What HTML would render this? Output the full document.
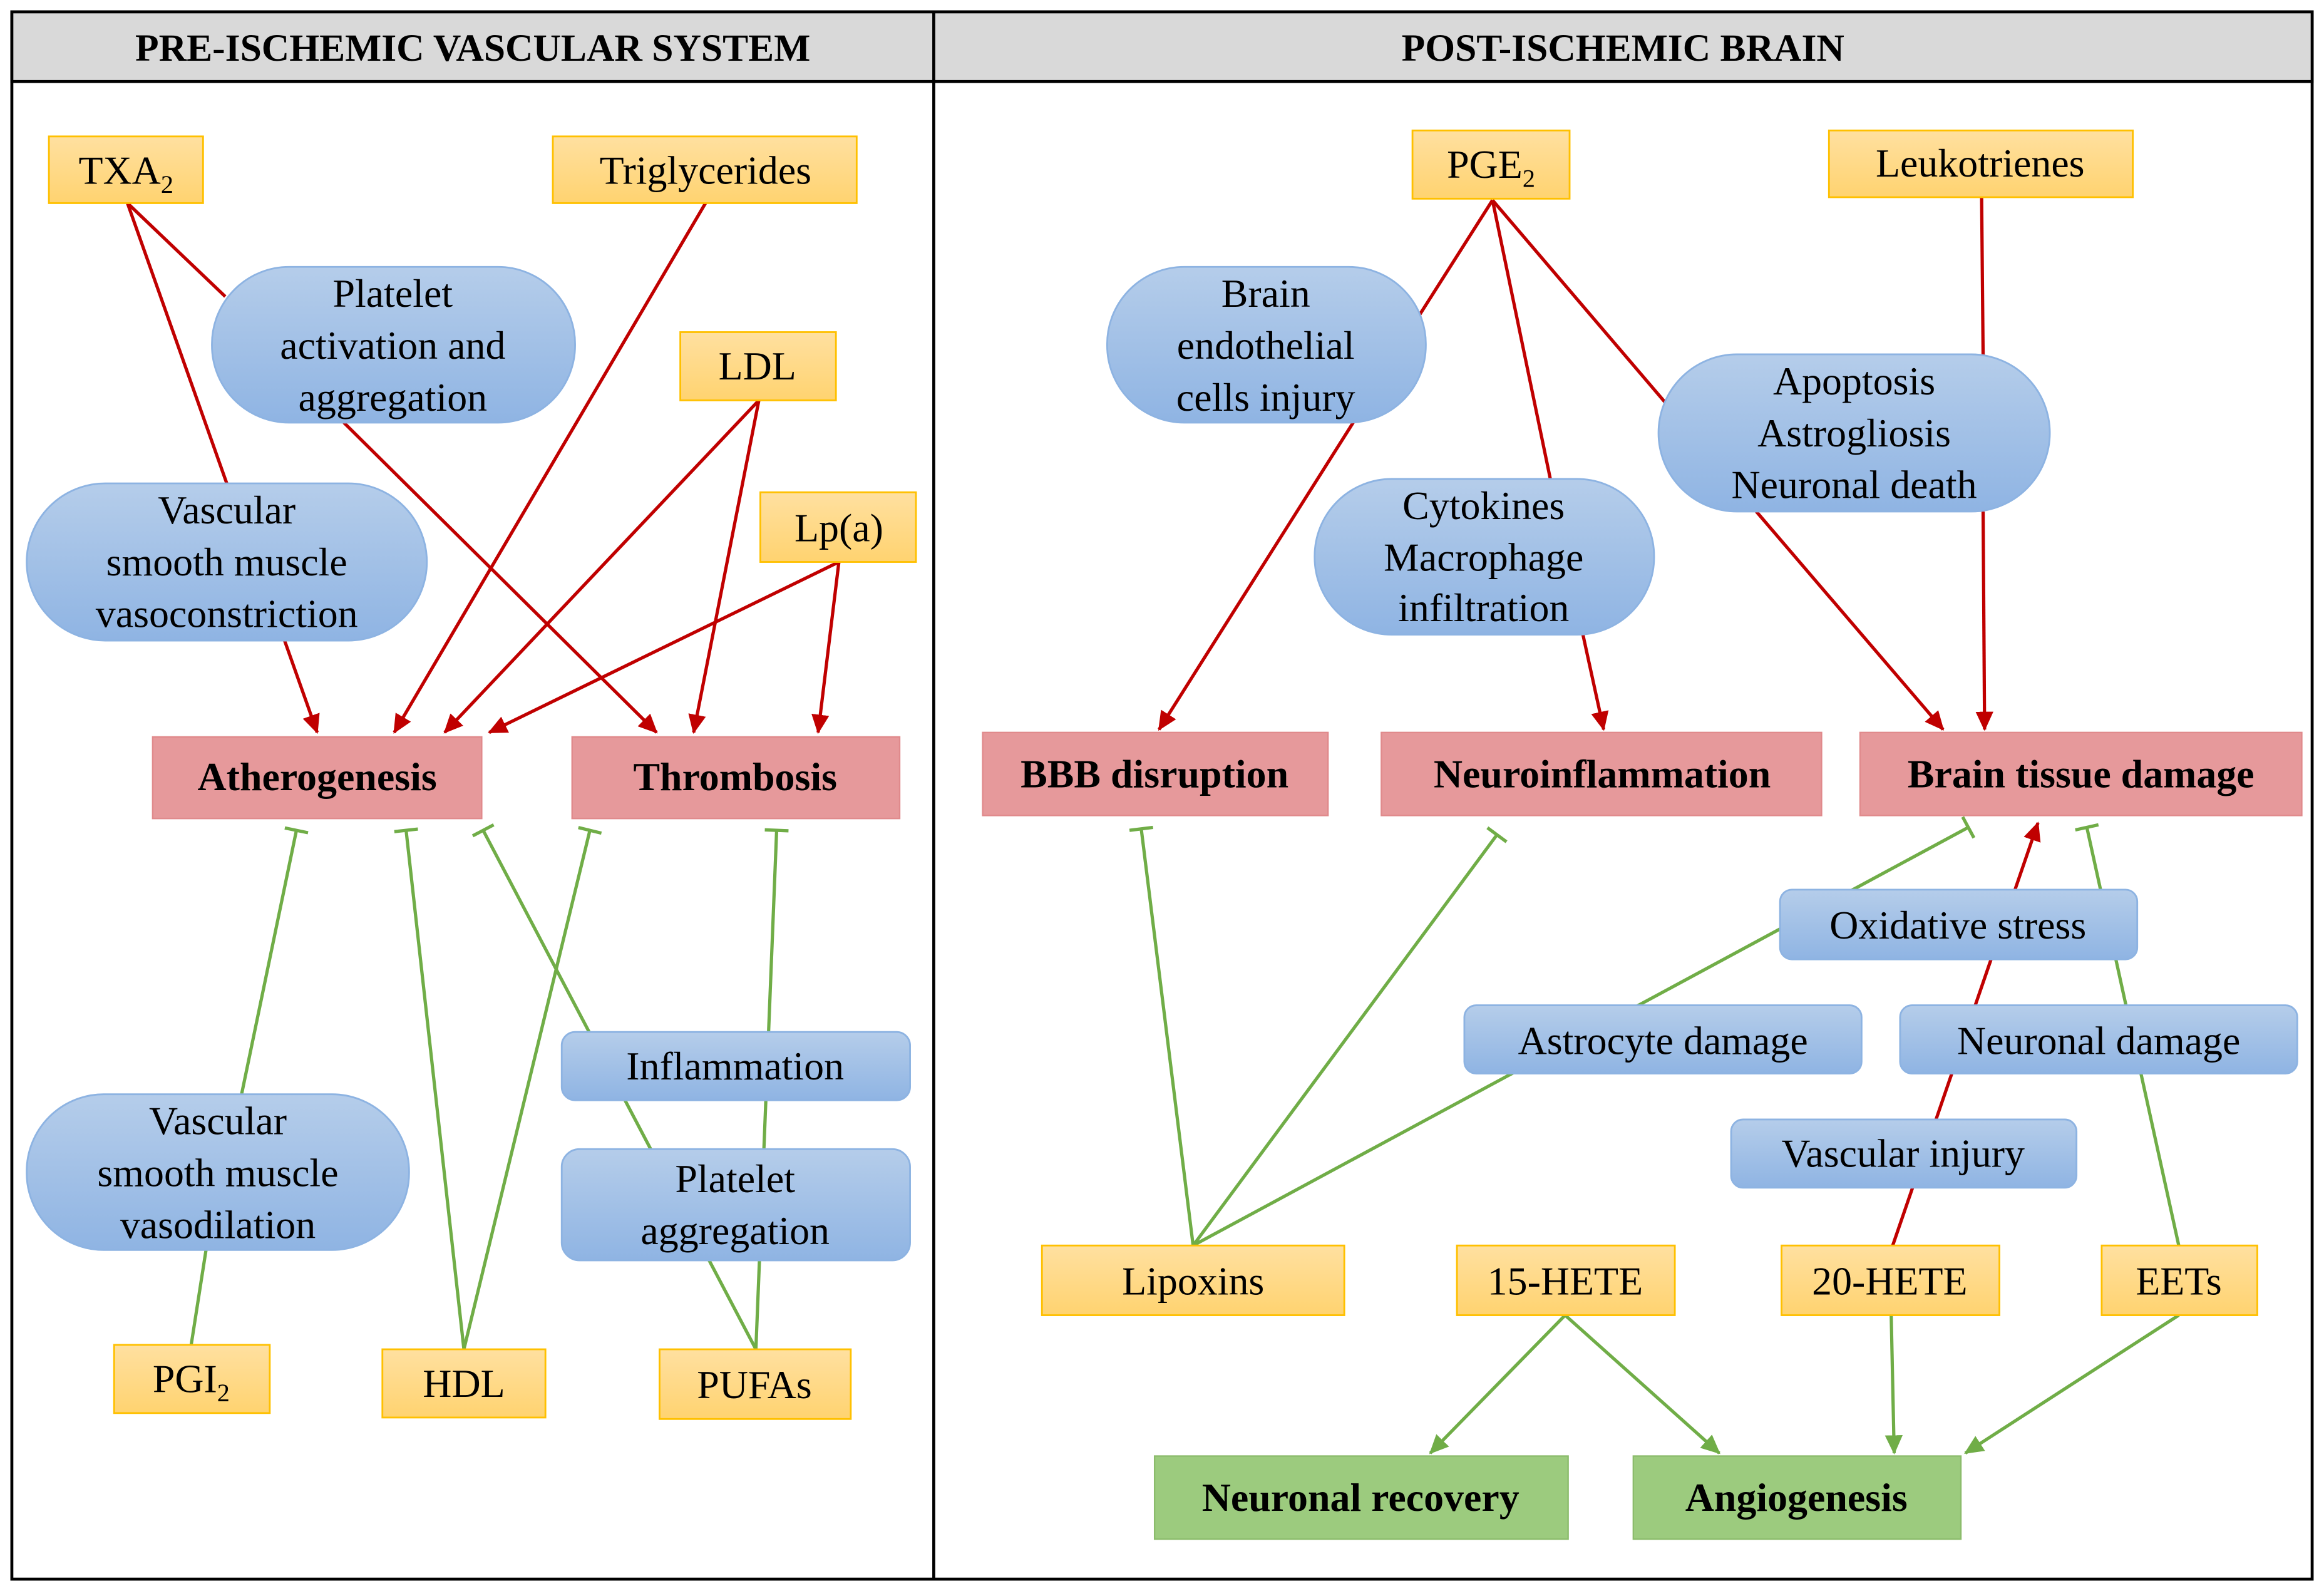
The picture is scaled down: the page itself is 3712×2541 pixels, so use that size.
<!DOCTYPE html>
<html><head><meta charset="utf-8"><style>
html,body{margin:0;padding:0;background:#fff;}
svg{display:block;font-family:"Liberation Serif","DejaVu Serif",serif;}
svg text{font-family:"Liberation Serif","DejaVu Serif",serif;fill:#000;}
</style></head><body>
<svg width="3712" height="2541" viewBox="0 0 1568 1073" preserveAspectRatio="none" xmlns="http://www.w3.org/2000/svg" font-family="Liberation Serif, serif">
<defs>
<linearGradient id="og" x1="0" y1="0" x2="0" y2="1"><stop offset="0" stop-color="#ffe0a0"/><stop offset="1" stop-color="#ffd370"/></linearGradient>
<linearGradient id="bg" x1="0" y1="0" x2="0" y2="1"><stop offset="0" stop-color="#b5cdea"/><stop offset="1" stop-color="#8fb4e3"/></linearGradient>
<marker id="ar" markerUnits="userSpaceOnUse" markerWidth="16" markerHeight="16" refX="12" refY="6" orient="auto"><path d="M0,0 L13,6 L0,12 z" fill="#c00000"/></marker>
<marker id="ag" markerUnits="userSpaceOnUse" markerWidth="16" markerHeight="16" refX="12" refY="6" orient="auto"><path d="M0,0 L13,6 L0,12 z" fill="#70ad47"/></marker>
<marker id="tb" markerUnits="userSpaceOnUse" markerWidth="6" markerHeight="20" refX="3" refY="10" orient="auto"><path d="M3,2 L3,18" stroke="#70ad47" stroke-width="2.2"/></marker>
</defs>
<rect x="8" y="8" width="1552" height="1057" fill="#fff" stroke="#000" stroke-width="2"/>
<rect x="8" y="8" width="1552" height="47" fill="#d9d9d9" stroke="#000" stroke-width="2"/>
<line x1="630" y1="8" x2="630" y2="1065" stroke="#000" stroke-width="2"/>
<g font-family="Liberation Serif, serif" font-size="26" font-weight="bold" text-anchor="middle">
<text x="319" y="41">PRE-ISCHEMIC VASCULAR SYSTEM</text>
<text x="1095" y="41">POST-ISCHEMIC BRAIN</text>
</g>

<g stroke="#c00000" stroke-width="2.2" fill="none">
<line x1="86" y1="137" x2="152" y2="200"/>
<line x1="86" y1="137" x2="153" y2="326"/>
<line x1="192" y1="432" x2="214" y2="494" marker-end="url(#ar)"/>
<line x1="476" y1="137" x2="266" y2="494" marker-end="url(#ar)"/>
<line x1="512" y1="270" x2="300" y2="494" marker-end="url(#ar)"/>
<line x1="512" y1="270" x2="468" y2="494" marker-end="url(#ar)"/>
<line x1="566" y1="379" x2="330" y2="494" marker-end="url(#ar)"/>
<line x1="566" y1="379" x2="552" y2="494" marker-end="url(#ar)"/>
<line x1="232" y1="285" x2="443" y2="494" marker-end="url(#ar)"/>
<line x1="1007" y1="135" x2="958" y2="212"/>
<line x1="913" y1="285" x2="782" y2="492" marker-end="url(#ar)"/>
<line x1="1007" y1="135" x2="1046" y2="323"/>
<line x1="1068" y1="428" x2="1082" y2="492" marker-end="url(#ar)"/>
<line x1="1007" y1="135" x2="1124" y2="272"/>
<line x1="1185" y1="345" x2="1311" y2="492" marker-end="url(#ar)"/>
<line x1="1337" y1="133" x2="1338" y2="240"/>
<line x1="1338" y1="345" x2="1339" y2="492" marker-end="url(#ar)"/>
<line x1="1277" y1="840" x2="1375" y2="555" marker-end="url(#ar)"/>
</g>
<g stroke="#70ad47" stroke-width="2.2" fill="none">
<line x1="129" y1="907" x2="139" y2="843"/>
<line x1="163" y1="738" x2="200" y2="560" marker-end="url(#tb)"/>
<line x1="313" y1="910" x2="274" y2="560" marker-end="url(#tb)"/>
<line x1="313" y1="910" x2="398" y2="560" marker-end="url(#tb)"/>
<line x1="510" y1="910" x2="326" y2="560" marker-end="url(#tb)"/>
<line x1="510" y1="910" x2="524" y2="560" marker-end="url(#tb)"/>
<line x1="805" y1="840" x2="770" y2="559" marker-end="url(#tb)"/>
<line x1="805" y1="840" x2="1010" y2="563" marker-end="url(#tb)"/>
<line x1="805" y1="840" x2="1328" y2="558" marker-end="url(#tb)"/>
<line x1="1470" y1="840" x2="1408" y2="558" marker-end="url(#tb)"/>
<line x1="1056" y1="887" x2="965" y2="980" marker-end="url(#ag)"/>
<line x1="1056" y1="887" x2="1160" y2="980" marker-end="url(#ag)"/>
<line x1="1276" y1="887" x2="1278" y2="980" marker-end="url(#ag)"/>
<line x1="1470" y1="887" x2="1326" y2="980" marker-end="url(#ag)"/>
</g>

<g fill="url(#og)" stroke="#ffc000" stroke-width="1.2">
<rect x="33" y="92" width="104" height="45"/>
<rect x="373" y="92" width="205" height="45"/>
<rect x="459" y="224" width="105" height="46"/>
<rect x="513" y="332" width="105" height="47"/>
<rect x="77" y="907" width="105" height="46"/>
<rect x="258" y="910" width="110" height="46"/>
<rect x="445" y="910" width="129" height="47"/>
<rect x="953" y="88" width="106" height="46"/>
<rect x="1234" y="88" width="205" height="45"/>
<rect x="703" y="840" width="204" height="47"/>
<rect x="983" y="840" width="147" height="47"/>
<rect x="1202" y="840" width="147" height="47"/>
<rect x="1418" y="840" width="105" height="47"/>
</g>
<g fill="url(#bg)" stroke="#8db3e2" stroke-width="1.2">
<rect x="143" y="180" width="245" height="105" rx="52"/>
<rect x="18" y="326" width="270" height="106" rx="53"/>
<rect x="18" y="738" width="258" height="105" rx="52"/>
<rect x="379" y="696" width="235" height="46" rx="9"/>
<rect x="379" y="775" width="235" height="75" rx="12"/>
<rect x="747" y="180" width="215" height="105" rx="52"/>
<rect x="1119" y="239" width="264" height="106" rx="53"/>
<rect x="887" y="323" width="229" height="105" rx="52"/>
<rect x="1201" y="600" width="241" height="47" rx="8"/>
<rect x="988" y="678" width="268" height="46" rx="8"/>
<rect x="1282" y="678" width="268" height="46" rx="8"/>
<rect x="1168" y="755" width="233" height="46" rx="8"/>
</g>
<g fill="#e6999b" stroke="#e08a8c" stroke-width="1">
<rect x="103" y="497" width="222" height="55"/>
<rect x="386" y="497" width="221" height="55"/>
<rect x="663" y="494" width="233" height="56"/>
<rect x="932" y="494" width="297" height="56"/>
<rect x="1255" y="494" width="298" height="56"/>
</g>
<g fill="#9ccb7e" stroke="#8cbc6c" stroke-width="1">
<rect x="779" y="982" width="279" height="56"/>
<rect x="1102" y="982" width="221" height="56"/>
</g>

<g font-family="Liberation Serif, serif" font-size="27" text-anchor="middle">
<text x="85" y="124">TXA<tspan font-size="17" dy="6">2</tspan></text>
<text x="476" y="124">Triglycerides</text>
<text x="511" y="256">LDL</text>
<text x="566" y="365">Lp(a)</text>
<text x="129" y="939">PGI<tspan font-size="17" dy="6">2</tspan></text>
<text x="313" y="942">HDL</text>
<text x="509" y="943">PUFAs</text>
<text x="1006" y="120">PGE<tspan font-size="17" dy="6">2</tspan></text>
<text x="1336" y="119">Leukotrienes</text>
<text x="805" y="873">Lipoxins</text>
<text x="1056" y="873">15-HETE</text>
<text x="1275" y="873">20-HETE</text>
<text x="1470" y="873">EETs</text>

<text x="265" y="207">Platelet</text>
<text x="265" y="242">activation and</text>
<text x="265" y="277">aggregation</text>
<text x="153" y="353">Vascular</text>
<text x="153" y="388">smooth muscle</text>
<text x="153" y="423">vasoconstriction</text>
<text x="147" y="765">Vascular</text>
<text x="147" y="800">smooth muscle</text>
<text x="147" y="835">vasodilation</text>
<text x="496" y="728">Inflammation</text>
<text x="496" y="804">Platelet</text>
<text x="496" y="839">aggregation</text>
<text x="854" y="207">Brain</text>
<text x="854" y="242">endothelial</text>
<text x="854" y="277">cells injury</text>
<text x="1251" y="266">Apoptosis</text>
<text x="1251" y="301">Astrogliosis</text>
<text x="1251" y="336">Neuronal death</text>
<text x="1001" y="350">Cytokines</text>
<text x="1001" y="385">Macrophage</text>
<text x="1001" y="419">infiltration</text>
<text x="1321" y="633">Oxidative stress</text>
<text x="1122" y="711">Astrocyte damage</text>
<text x="1416" y="711">Neuronal damage</text>
<text x="1284" y="787">Vascular injury</text>
</g>
<g font-family="Liberation Serif, serif" font-size="27" font-weight="bold" text-anchor="middle">
<text x="214" y="533">Atherogenesis</text>
<text x="496" y="533">Thrombosis</text>
<text x="779" y="531">BBB disruption</text>
<text x="1081" y="531">Neuroinflammation</text>
<text x="1404" y="531">Brain tissue damage</text>
<text x="918" y="1019">Neuronal recovery</text>
<text x="1212" y="1019">Angiogenesis</text>
</g>
</svg>
</body></html>
